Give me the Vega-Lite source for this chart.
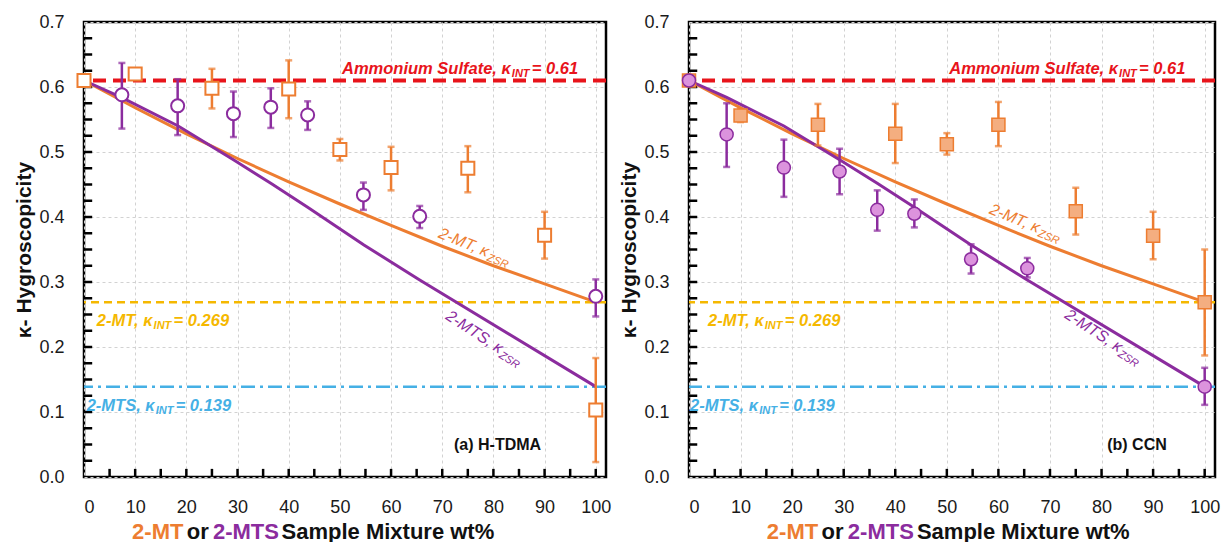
{
  "$schema": "https://vega.github.io/schema/vega-lite/v6.json",
  "padding": {"left": 12, "top": 11, "right": 2, "bottom": 0},
  "spacing": 4,
  "config": {
    "font": "Liberation Sans",
    "view": {"stroke": "#000000", "strokeWidth": 2.5},
    "axis": {
      "labelFont": "Liberation Sans", "labelFontSize": 18, "labelColor": "#1a1a1a",
      "titleFont": "Liberation Sans", "titleFontSize": 21, "titleFontWeight": "bold", "titleColor": "#111111",
      "ticks": false, "domain": false,
      "gridColor": "#d2d2d2", "gridDash": [3, 3], "gridWidth": 1
    },
    "axisX": {"labelPadding": 21},
    "axisY": {"labelPadding": 20, "titlePadding": 4}
  },
  "datasets": {
    "xt": [{"v": 5}, {"v": 10}, {"v": 15}, {"v": 20}, {"v": 25}, {"v": 30}, {"v": 35}, {"v": 40}, {"v": 45}, {"v": 50}, {"v": 55}, {"v": 60}, {"v": 65}, {"v": 70}, {"v": 75}, {"v": 80}, {"v": 85}, {"v": 90}, {"v": 95}, {"v": 100}],
    "yt": [{"v": 0.025}, {"v": 0.05}, {"v": 0.075}, {"v": 0.1}, {"v": 0.125}, {"v": 0.15}, {"v": 0.175}, {"v": 0.2}, {"v": 0.225}, {"v": 0.25}, {"v": 0.275}, {"v": 0.3}, {"v": 0.325}, {"v": 0.35}, {"v": 0.375}, {"v": 0.4}, {"v": 0.425}, {"v": 0.45}, {"v": 0.475}, {"v": 0.5}, {"v": 0.525}, {"v": 0.55}, {"v": 0.575}, {"v": 0.6}, {"v": 0.625}, {"v": 0.65}, {"v": 0.675}],
    "pts": [
      {"panel": "a", "c": "2-MT", "x": 0, "k": 0.61, "lo": null, "hi": null},
      {"panel": "a", "c": "2-MT", "x": 10, "k": 0.62, "lo": 0.613, "hi": 0.627},
      {"panel": "a", "c": "2-MT", "x": 25, "k": 0.598, "lo": 0.567, "hi": 0.628},
      {"panel": "a", "c": "2-MT", "x": 40, "k": 0.597, "lo": 0.552, "hi": 0.641},
      {"panel": "a", "c": "2-MT", "x": 50, "k": 0.504, "lo": 0.487, "hi": 0.52},
      {"panel": "a", "c": "2-MT", "x": 60, "k": 0.476, "lo": 0.441, "hi": 0.508},
      {"panel": "a", "c": "2-MT", "x": 75, "k": 0.475, "lo": 0.438, "hi": 0.509},
      {"panel": "a", "c": "2-MT", "x": 90, "k": 0.372, "lo": 0.336, "hi": 0.408},
      {"panel": "a", "c": "2-MT", "x": 100, "k": 0.103, "lo": 0.023, "hi": 0.183},
      {"panel": "a", "c": "2-MTS", "x": 7.4, "k": 0.588, "lo": 0.536, "hi": 0.637},
      {"panel": "a", "c": "2-MTS", "x": 18.3, "k": 0.571, "lo": 0.526, "hi": 0.612},
      {"panel": "a", "c": "2-MTS", "x": 29.2, "k": 0.559, "lo": 0.523, "hi": 0.593},
      {"panel": "a", "c": "2-MTS", "x": 36.5, "k": 0.569, "lo": 0.537, "hi": 0.598},
      {"panel": "a", "c": "2-MTS", "x": 43.7, "k": 0.557, "lo": 0.534, "hi": 0.578},
      {"panel": "a", "c": "2-MTS", "x": 54.6, "k": 0.434, "lo": 0.411, "hi": 0.453},
      {"panel": "a", "c": "2-MTS", "x": 65.6, "k": 0.401, "lo": 0.383, "hi": 0.417},
      {"panel": "a", "c": "2-MTS", "x": 100, "k": 0.278, "lo": 0.247, "hi": 0.304},
      {"panel": "b", "c": "2-MT", "x": 0, "k": 0.61, "lo": null, "hi": null},
      {"panel": "b", "c": "2-MT", "x": 10, "k": 0.556, "lo": 0.546, "hi": 0.566},
      {"panel": "b", "c": "2-MT", "x": 25, "k": 0.542, "lo": 0.51, "hi": 0.574},
      {"panel": "b", "c": "2-MT", "x": 40, "k": 0.528, "lo": 0.483, "hi": 0.574},
      {"panel": "b", "c": "2-MT", "x": 50, "k": 0.512, "lo": 0.496, "hi": 0.529},
      {"panel": "b", "c": "2-MT", "x": 60, "k": 0.542, "lo": 0.509, "hi": 0.577},
      {"panel": "b", "c": "2-MT", "x": 75, "k": 0.409, "lo": 0.373, "hi": 0.445},
      {"panel": "b", "c": "2-MT", "x": 90, "k": 0.371, "lo": 0.335, "hi": 0.408},
      {"panel": "b", "c": "2-MT", "x": 100, "k": 0.269, "lo": 0.187, "hi": 0.35},
      {"panel": "b", "c": "2-MTS", "x": 0, "k": 0.61, "lo": null, "hi": null},
      {"panel": "b", "c": "2-MTS", "x": 7.3, "k": 0.527, "lo": 0.477, "hi": 0.575},
      {"panel": "b", "c": "2-MTS", "x": 18.4, "k": 0.476, "lo": 0.431, "hi": 0.519},
      {"panel": "b", "c": "2-MTS", "x": 29.2, "k": 0.47, "lo": 0.435, "hi": 0.505},
      {"panel": "b", "c": "2-MTS", "x": 36.5, "k": 0.411, "lo": 0.379, "hi": 0.441},
      {"panel": "b", "c": "2-MTS", "x": 43.7, "k": 0.405, "lo": 0.384, "hi": 0.427},
      {"panel": "b", "c": "2-MTS", "x": 54.7, "k": 0.335, "lo": 0.313, "hi": 0.358},
      {"panel": "b", "c": "2-MTS", "x": 65.6, "k": 0.321, "lo": 0.307, "hi": 0.337},
      {"panel": "b", "c": "2-MTS", "x": 100, "k": 0.139, "lo": 0.111, "hi": 0.168}
    ],
    "zsr": [
      {"c": "2-MT", "x": 0, "k": 0.61},
      {"c": "2-MT", "x": 10, "k": 0.568},
      {"c": "2-MT", "x": 20, "k": 0.528},
      {"c": "2-MT", "x": 30, "k": 0.49},
      {"c": "2-MT", "x": 40, "k": 0.454},
      {"c": "2-MT", "x": 50, "k": 0.42},
      {"c": "2-MT", "x": 60, "k": 0.387},
      {"c": "2-MT", "x": 70, "k": 0.355},
      {"c": "2-MT", "x": 80, "k": 0.325},
      {"c": "2-MT", "x": 90, "k": 0.297},
      {"c": "2-MT", "x": 100, "k": 0.269},
      {"c": "2-MTS", "x": 0, "k": 0.61},
      {"c": "2-MTS", "x": 7.3, "k": 0.584},
      {"c": "2-MTS", "x": 18.4, "k": 0.54},
      {"c": "2-MTS", "x": 29.2, "k": 0.488},
      {"c": "2-MTS", "x": 36.5, "k": 0.452},
      {"c": "2-MTS", "x": 43.7, "k": 0.415},
      {"c": "2-MTS", "x": 54.7, "k": 0.357},
      {"c": "2-MTS", "x": 65.6, "k": 0.303},
      {"c": "2-MTS", "x": 100, "k": 0.139}
    ],
    "refs": [
      {"c": "AS", "k": 0.61},
      {"c": "MT-INT", "k": 0.269},
      {"c": "MTS-INT", "k": 0.139}
    ],
    "ilabels": [
      {"panel": "a", "c": "AS", "x": 83.6, "k": 0.628, "pre": "Ammonium Sulfate, κ", "sub": "INT", "post": "= 0.61"},
      {"panel": "a", "c": "MT-INT", "x": 13.6, "k": 0.2395, "pre": "2-MT, κ", "sub": "INT", "post": "= 0.269"},
      {"panel": "a", "c": "MTS-INT", "x": 14.0, "k": 0.11, "pre": "2-MTS, κ", "sub": "INT", "post": "= 0.139"},
      {"panel": "b", "c": "AS", "x": 83.4, "k": 0.628, "pre": "Ammonium Sulfate, κ", "sub": "INT", "post": "= 0.61"},
      {"panel": "b", "c": "MT-INT", "x": 14.7, "k": 0.2395, "pre": "2-MT, κ", "sub": "INT", "post": "= 0.269"},
      {"panel": "b", "c": "MTS-INT", "x": 13.6, "k": 0.11, "pre": "2-MTS, κ", "sub": "INT", "post": "= 0.139"}
    ],
    "zlabels": [
      {"panel": "a", "c": "2-MT", "x": 79.2, "k": 0.345, "pre": "2-MT, κ", "sub": "ZSR"},
      {"panel": "a", "c": "2-MTS", "x": 81.8, "k": 0.195, "pre": "2-MTS, κ", "sub": "ZSR"},
      {"panel": "b", "c": "2-MT", "x": 68.1, "k": 0.382, "pre": "2-MT, κ", "sub": "ZSR"},
      {"panel": "b", "c": "2-MTS", "x": 83.9, "k": 0.197, "pre": "2-MTS, κ", "sub": "ZSR"}
    ],
    "plabels": [
      {"panel": "a", "x": 72.3, "t": "(a) H-TDMA"},
      {"panel": "b", "x": 81.1, "t": "(b) CCN"}
    ],
    "xtitle": [
      {"panel": "a", "c": "2-MT", "x": 9.4, "t": "2-MT"},
      {"panel": "a", "c": "text", "x": 20.1, "t": "or"},
      {"panel": "a", "c": "2-MTS", "x": 25.2, "t": "2-MTS"},
      {"panel": "a", "c": "text", "x": 38.6, "t": "Sample Mixture wt%"},
      {"panel": "b", "c": "2-MT", "x": 15.1, "t": "2-MT"},
      {"panel": "b", "c": "text", "x": 25.7, "t": "or"},
      {"panel": "b", "c": "2-MTS", "x": 30.8, "t": "2-MTS"},
      {"panel": "b", "c": "text", "x": 44.2, "t": "Sample Mixture wt%"}
    ]
  },
  "hconcat": [
    {
      "width": 522, "height": 455,
      "layer": [
        {"data": {"name": "refs"}, "transform": [{"filter": "datum.c === 'AS'"}], "mark": {"type": "rule", "color": "#E8141B", "strokeWidth": 4, "strokeDash": [13, 7]},
         "encoding": {"y": {"field": "k", "type": "quantitative", "scale": {"domain": [0, 0.7], "nice": false, "zero": false},
           "axis": {"title": "κ- Hygroscopicity", "values": [0, 0.1, 0.2, 0.3, 0.4, 0.5, 0.6, 0.7], "format": ".1f"}}}},
        {"data": {"name": "refs"}, "transform": [{"filter": "datum.c === 'MT-INT'"}], "mark": {"type": "rule", "color": "#F5B800", "strokeWidth": 2.5, "strokeDash": [8, 5]},
         "encoding": {"y": {"field": "k", "type": "quantitative", "scale": {"domain": [0, 0.7], "nice": false, "zero": false}}}},
        {"data": {"name": "refs"}, "transform": [{"filter": "datum.c === 'MTS-INT'"}], "mark": {"type": "rule", "color": "#45B0E5", "strokeWidth": 2.5, "strokeDash": [14, 5, 3, 5]},
         "encoding": {"y": {"field": "k", "type": "quantitative", "scale": {"domain": [0, 0.7], "nice": false, "zero": false}}}},
        {"data": {"name": "xt"}, "mark": {"type": "rule", "color": "#000000", "strokeWidth": 2.5},
         "encoding": {
           "x": {"field": "v", "type": "quantitative", "scale": {"domain": [0, 102], "nice": false, "zero": false},
             "axis": {"title": null, "values": [0, 10, 20, 30, 40, 50, 60, 70, 80, 90, 100]}},
           "y": {"datum": 0, "type": "quantitative", "scale": {"domain": [0, 0.7], "nice": false, "zero": false}},
           "y2": {"datum": 0.0125}}},
        {"data": {"name": "yt"}, "mark": {"type": "rule", "color": "#000000", "strokeWidth": 2.5},
         "encoding": {
           "y": {"field": "v", "type": "quantitative", "scale": {"domain": [0, 0.7], "nice": false, "zero": false}},
           "x": {"datum": 0, "type": "quantitative", "scale": {"domain": [0, 102], "nice": false, "zero": false}},
           "x2": {"datum": 1.6}}},
        {"data": {"name": "zsr"}, "mark": {"type": "line", "strokeWidth": 3},
         "encoding": {
           "x": {"field": "x", "type": "quantitative", "scale": {"domain": [0, 102], "nice": false, "zero": false}},
           "y": {"field": "k", "type": "quantitative", "scale": {"domain": [0, 0.7], "nice": false, "zero": false}},
           "color": {"field": "c", "type": "nominal", "scale": {"domain": ["2-MT", "2-MTS", "AS", "MT-INT", "MTS-INT", "text"], "range": ["#ED7D31", "#8B2C9E", "#E8141B", "#F5B800", "#45B0E5", "#111111"]}, "legend": null}}},
        {"data": {"name": "pts"}, "transform": [{"filter": "datum.panel === 'a'"}], "mark": {"type": "rule", "strokeWidth": 2.5},
         "encoding": {
           "x": {"field": "x", "type": "quantitative", "scale": {"domain": [0, 102], "nice": false, "zero": false}},
           "y": {"field": "lo", "type": "quantitative", "scale": {"domain": [0, 0.7], "nice": false, "zero": false}},
           "y2": {"field": "hi"},
           "color": {"field": "c", "type": "nominal", "scale": {"domain": ["2-MT", "2-MTS", "AS", "MT-INT", "MTS-INT", "text"], "range": ["#ED7D31", "#8B2C9E", "#E8141B", "#F5B800", "#45B0E5", "#111111"]}, "legend": null}}},
        {"data": {"name": "pts"}, "transform": [{"filter": "datum.panel === 'a'"}, {"fold": ["lo", "hi"], "as": ["end", "v"]}], "mark": {"type": "tick", "orient": "horizontal", "size": 7, "thickness": 2.5},
         "encoding": {
           "x": {"field": "x", "type": "quantitative", "scale": {"domain": [0, 102], "nice": false, "zero": false}},
           "y": {"field": "v", "type": "quantitative", "scale": {"domain": [0, 0.7], "nice": false, "zero": false}},
           "color": {"field": "c", "type": "nominal", "scale": {"domain": ["2-MT", "2-MTS", "AS", "MT-INT", "MTS-INT", "text"], "range": ["#ED7D31", "#8B2C9E", "#E8141B", "#F5B800", "#45B0E5", "#111111"]}, "legend": null}}},
        {"data": {"name": "pts"}, "transform": [{"filter": "datum.panel === 'a'"}], "mark": {"type": "point", "filled": true, "fill": "white", "strokeWidth": 2, "size": 170, "opacity": 1},
         "encoding": {
           "x": {"field": "x", "type": "quantitative", "scale": {"domain": [0, 102], "nice": false, "zero": false}},
           "y": {"field": "k", "type": "quantitative", "scale": {"domain": [0, 0.7], "nice": false, "zero": false}},
           "shape": {"field": "c", "type": "nominal", "scale": {"domain": ["2-MT", "2-MTS"], "range": ["square", "circle"]}, "legend": null},
           "stroke": {"field": "c", "type": "nominal", "scale": {"domain": ["2-MT", "2-MTS"], "range": ["#ED7D31", "#8B2C9E"]}, "legend": null}}},
        {"data": {"name": "ilabels"}, "transform": [{"filter": "datum.panel === 'a'"}], "mark": {"type": "text", "align": "right", "baseline": "middle", "fontSize": 16.5, "fontStyle": "italic", "fontWeight": "bold", "dx": -1},
         "encoding": {
           "x": {"field": "x", "type": "quantitative", "scale": {"domain": [0, 102], "nice": false, "zero": false}},
           "y": {"field": "k", "type": "quantitative", "scale": {"domain": [0, 0.7], "nice": false, "zero": false}},
           "text": {"field": "pre"},
           "color": {"field": "c", "type": "nominal", "scale": {"domain": ["2-MT", "2-MTS", "AS", "MT-INT", "MTS-INT", "text"], "range": ["#ED7D31", "#8B2C9E", "#E8141B", "#F5B800", "#45B0E5", "#111111"]}, "legend": null}}},
        {"data": {"name": "ilabels"}, "transform": [{"filter": "datum.panel === 'a'"}], "mark": {"type": "text", "align": "left", "baseline": "middle", "fontSize": 11, "fontStyle": "italic", "fontWeight": "bold", "dx": 0, "dy": 5},
         "encoding": {
           "x": {"field": "x", "type": "quantitative", "scale": {"domain": [0, 102], "nice": false, "zero": false}},
           "y": {"field": "k", "type": "quantitative", "scale": {"domain": [0, 0.7], "nice": false, "zero": false}},
           "text": {"field": "sub"},
           "color": {"field": "c", "type": "nominal", "scale": {"domain": ["2-MT", "2-MTS", "AS", "MT-INT", "MTS-INT", "text"], "range": ["#ED7D31", "#8B2C9E", "#E8141B", "#F5B800", "#45B0E5", "#111111"]}, "legend": null}}},
        {"data": {"name": "ilabels"}, "transform": [{"filter": "datum.panel === 'a'"}], "mark": {"type": "text", "align": "left", "baseline": "middle", "fontSize": 16.5, "fontStyle": "italic", "fontWeight": "bold", "dx": 20},
         "encoding": {
           "x": {"field": "x", "type": "quantitative", "scale": {"domain": [0, 102], "nice": false, "zero": false}},
           "y": {"field": "k", "type": "quantitative", "scale": {"domain": [0, 0.7], "nice": false, "zero": false}},
           "text": {"field": "post"},
           "color": {"field": "c", "type": "nominal", "scale": {"domain": ["2-MT", "2-MTS", "AS", "MT-INT", "MTS-INT", "text"], "range": ["#ED7D31", "#8B2C9E", "#E8141B", "#F5B800", "#45B0E5", "#111111"]}, "legend": null}}},
        {"data": {"name": "zlabels"}, "transform": [{"filter": "datum.panel === 'a' && datum.c === '2-MT'"}], "mark": {"type": "text", "align": "right", "baseline": "middle", "fontSize": 16, "fontStyle": "italic", "angle": 22, "dx": -1},
         "encoding": {
           "x": {"field": "x", "type": "quantitative", "scale": {"domain": [0, 102], "nice": false, "zero": false}},
           "y": {"field": "k", "type": "quantitative", "scale": {"domain": [0, 0.7], "nice": false, "zero": false}},
           "text": {"field": "pre"},
           "color": {"field": "c", "type": "nominal", "scale": {"domain": ["2-MT", "2-MTS", "AS", "MT-INT", "MTS-INT", "text"], "range": ["#ED7D31", "#8B2C9E", "#E8141B", "#F5B800", "#45B0E5", "#111111"]}, "legend": null}}},
        {"data": {"name": "zlabels"}, "transform": [{"filter": "datum.panel === 'a' && datum.c === '2-MT'"}], "mark": {"type": "text", "align": "left", "baseline": "middle", "fontSize": 11, "fontStyle": "italic", "angle": 22, "dy": 5},
         "encoding": {
           "x": {"field": "x", "type": "quantitative", "scale": {"domain": [0, 102], "nice": false, "zero": false}},
           "y": {"field": "k", "type": "quantitative", "scale": {"domain": [0, 0.7], "nice": false, "zero": false}},
           "text": {"field": "sub"},
           "color": {"field": "c", "type": "nominal", "scale": {"domain": ["2-MT", "2-MTS", "AS", "MT-INT", "MTS-INT", "text"], "range": ["#ED7D31", "#8B2C9E", "#E8141B", "#F5B800", "#45B0E5", "#111111"]}, "legend": null}}},
        {"data": {"name": "zlabels"}, "transform": [{"filter": "datum.panel === 'a' && datum.c === '2-MTS'"}], "mark": {"type": "text", "align": "right", "baseline": "middle", "fontSize": 16, "fontStyle": "italic", "angle": 33, "dx": -1},
         "encoding": {
           "x": {"field": "x", "type": "quantitative", "scale": {"domain": [0, 102], "nice": false, "zero": false}},
           "y": {"field": "k", "type": "quantitative", "scale": {"domain": [0, 0.7], "nice": false, "zero": false}},
           "text": {"field": "pre"},
           "color": {"field": "c", "type": "nominal", "scale": {"domain": ["2-MT", "2-MTS", "AS", "MT-INT", "MTS-INT", "text"], "range": ["#ED7D31", "#8B2C9E", "#E8141B", "#F5B800", "#45B0E5", "#111111"]}, "legend": null}}},
        {"data": {"name": "zlabels"}, "transform": [{"filter": "datum.panel === 'a' && datum.c === '2-MTS'"}], "mark": {"type": "text", "align": "left", "baseline": "middle", "fontSize": 11, "fontStyle": "italic", "angle": 33, "dy": 5},
         "encoding": {
           "x": {"field": "x", "type": "quantitative", "scale": {"domain": [0, 102], "nice": false, "zero": false}},
           "y": {"field": "k", "type": "quantitative", "scale": {"domain": [0, 0.7], "nice": false, "zero": false}},
           "text": {"field": "sub"},
           "color": {"field": "c", "type": "nominal", "scale": {"domain": ["2-MT", "2-MTS", "AS", "MT-INT", "MTS-INT", "text"], "range": ["#ED7D31", "#8B2C9E", "#E8141B", "#F5B800", "#45B0E5", "#111111"]}, "legend": null}}},
        {"data": {"name": "plabels"}, "transform": [{"filter": "datum.panel === 'a'"}], "mark": {"type": "text", "align": "left", "baseline": "middle", "fontSize": 16, "fontWeight": "bold", "color": "#111111"},
         "encoding": {
           "x": {"field": "x", "type": "quantitative", "scale": {"domain": [0, 102], "nice": false, "zero": false}},
           "y": {"datum": 0.05, "type": "quantitative", "scale": {"domain": [0, 0.7], "nice": false, "zero": false}},
           "text": {"field": "t"}}},
        {"data": {"name": "xtitle"}, "transform": [{"filter": "datum.panel === 'a'"}], "mark": {"type": "text", "align": "left", "baseline": "middle", "fontSize": 22, "fontWeight": "bold"},
         "encoding": {
           "x": {"field": "x", "type": "quantitative", "scale": {"domain": [0, 102], "nice": false, "zero": false}},
           "y": {"datum": -0.084, "type": "quantitative", "scale": {"domain": [0, 0.7], "nice": false, "zero": false}},
           "text": {"field": "t"},
           "color": {"field": "c", "type": "nominal", "scale": {"domain": ["2-MT", "2-MTS", "AS", "MT-INT", "MTS-INT", "text"], "range": ["#ED7D31", "#8B2C9E", "#E8141B", "#F5B800", "#45B0E5", "#111111"]}, "legend": null}}}
      ]
    },
    {
      "width": 526, "height": 455,
      "layer": [
        {"data": {"name": "refs"}, "transform": [{"filter": "datum.c === 'AS'"}], "mark": {"type": "rule", "color": "#E8141B", "strokeWidth": 4, "strokeDash": [13, 7]},
         "encoding": {"y": {"field": "k", "type": "quantitative", "scale": {"domain": [0, 0.7], "nice": false, "zero": false},
           "axis": {"title": "κ- Hygroscopicity", "values": [0, 0.1, 0.2, 0.3, 0.4, 0.5, 0.6, 0.7], "format": ".1f"}}}},
        {"data": {"name": "refs"}, "transform": [{"filter": "datum.c === 'MT-INT'"}], "mark": {"type": "rule", "color": "#F5B800", "strokeWidth": 2.5, "strokeDash": [8, 5]},
         "encoding": {"y": {"field": "k", "type": "quantitative", "scale": {"domain": [0, 0.7], "nice": false, "zero": false}}}},
        {"data": {"name": "refs"}, "transform": [{"filter": "datum.c === 'MTS-INT'"}], "mark": {"type": "rule", "color": "#45B0E5", "strokeWidth": 2.5, "strokeDash": [14, 5, 3, 5]},
         "encoding": {"y": {"field": "k", "type": "quantitative", "scale": {"domain": [0, 0.7], "nice": false, "zero": false}}}},
        {"data": {"name": "xt"}, "mark": {"type": "rule", "color": "#000000", "strokeWidth": 2.5},
         "encoding": {
           "x": {"field": "v", "type": "quantitative", "scale": {"domain": [0, 102], "nice": false, "zero": false},
             "axis": {"title": null, "values": [0, 10, 20, 30, 40, 50, 60, 70, 80, 90, 100]}},
           "y": {"datum": 0, "type": "quantitative", "scale": {"domain": [0, 0.7], "nice": false, "zero": false}},
           "y2": {"datum": 0.0125}}},
        {"data": {"name": "yt"}, "mark": {"type": "rule", "color": "#000000", "strokeWidth": 2.5},
         "encoding": {
           "y": {"field": "v", "type": "quantitative", "scale": {"domain": [0, 0.7], "nice": false, "zero": false}},
           "x": {"datum": 0, "type": "quantitative", "scale": {"domain": [0, 102], "nice": false, "zero": false}},
           "x2": {"datum": 1.6}}},
        {"data": {"name": "zsr"}, "mark": {"type": "line", "strokeWidth": 3},
         "encoding": {
           "x": {"field": "x", "type": "quantitative", "scale": {"domain": [0, 102], "nice": false, "zero": false}},
           "y": {"field": "k", "type": "quantitative", "scale": {"domain": [0, 0.7], "nice": false, "zero": false}},
           "color": {"field": "c", "type": "nominal", "scale": {"domain": ["2-MT", "2-MTS", "AS", "MT-INT", "MTS-INT", "text"], "range": ["#ED7D31", "#8B2C9E", "#E8141B", "#F5B800", "#45B0E5", "#111111"]}, "legend": null}}},
        {"data": {"name": "pts"}, "transform": [{"filter": "datum.panel === 'b'"}], "mark": {"type": "rule", "strokeWidth": 2.5},
         "encoding": {
           "x": {"field": "x", "type": "quantitative", "scale": {"domain": [0, 102], "nice": false, "zero": false}},
           "y": {"field": "lo", "type": "quantitative", "scale": {"domain": [0, 0.7], "nice": false, "zero": false}},
           "y2": {"field": "hi"},
           "color": {"field": "c", "type": "nominal", "scale": {"domain": ["2-MT", "2-MTS", "AS", "MT-INT", "MTS-INT", "text"], "range": ["#ED7D31", "#8B2C9E", "#E8141B", "#F5B800", "#45B0E5", "#111111"]}, "legend": null}}},
        {"data": {"name": "pts"}, "transform": [{"filter": "datum.panel === 'b'"}, {"fold": ["lo", "hi"], "as": ["end", "v"]}], "mark": {"type": "tick", "orient": "horizontal", "size": 7, "thickness": 2.5},
         "encoding": {
           "x": {"field": "x", "type": "quantitative", "scale": {"domain": [0, 102], "nice": false, "zero": false}},
           "y": {"field": "v", "type": "quantitative", "scale": {"domain": [0, 0.7], "nice": false, "zero": false}},
           "color": {"field": "c", "type": "nominal", "scale": {"domain": ["2-MT", "2-MTS", "AS", "MT-INT", "MTS-INT", "text"], "range": ["#ED7D31", "#8B2C9E", "#E8141B", "#F5B800", "#45B0E5", "#111111"]}, "legend": null}}},
        {"data": {"name": "pts"}, "transform": [{"filter": "datum.panel === 'b'"}], "mark": {"type": "point", "filled": true, "strokeWidth": 1.5, "size": 170, "opacity": 1},
         "encoding": {
           "x": {"field": "x", "type": "quantitative", "scale": {"domain": [0, 102], "nice": false, "zero": false}},
           "y": {"field": "k", "type": "quantitative", "scale": {"domain": [0, 0.7], "nice": false, "zero": false}},
           "shape": {"field": "c", "type": "nominal", "scale": {"domain": ["2-MT", "2-MTS"], "range": ["square", "circle"]}, "legend": null},
           "fill": {"field": "c", "type": "nominal", "scale": {"domain": ["2-MT", "2-MTS"], "range": ["#F4AE80", "#DC93DD"]}, "legend": null},
           "stroke": {"field": "c", "type": "nominal", "scale": {"domain": ["2-MT", "2-MTS"], "range": ["#ED7D31", "#9B32A8"]}, "legend": null}}},
        {"data": {"name": "ilabels"}, "transform": [{"filter": "datum.panel === 'b'"}], "mark": {"type": "text", "align": "right", "baseline": "middle", "fontSize": 16.5, "fontStyle": "italic", "fontWeight": "bold", "dx": -1},
         "encoding": {
           "x": {"field": "x", "type": "quantitative", "scale": {"domain": [0, 102], "nice": false, "zero": false}},
           "y": {"field": "k", "type": "quantitative", "scale": {"domain": [0, 0.7], "nice": false, "zero": false}},
           "text": {"field": "pre"},
           "color": {"field": "c", "type": "nominal", "scale": {"domain": ["2-MT", "2-MTS", "AS", "MT-INT", "MTS-INT", "text"], "range": ["#ED7D31", "#8B2C9E", "#E8141B", "#F5B800", "#45B0E5", "#111111"]}, "legend": null}}},
        {"data": {"name": "ilabels"}, "transform": [{"filter": "datum.panel === 'b'"}], "mark": {"type": "text", "align": "left", "baseline": "middle", "fontSize": 11, "fontStyle": "italic", "fontWeight": "bold", "dx": 0, "dy": 5},
         "encoding": {
           "x": {"field": "x", "type": "quantitative", "scale": {"domain": [0, 102], "nice": false, "zero": false}},
           "y": {"field": "k", "type": "quantitative", "scale": {"domain": [0, 0.7], "nice": false, "zero": false}},
           "text": {"field": "sub"},
           "color": {"field": "c", "type": "nominal", "scale": {"domain": ["2-MT", "2-MTS", "AS", "MT-INT", "MTS-INT", "text"], "range": ["#ED7D31", "#8B2C9E", "#E8141B", "#F5B800", "#45B0E5", "#111111"]}, "legend": null}}},
        {"data": {"name": "ilabels"}, "transform": [{"filter": "datum.panel === 'b'"}], "mark": {"type": "text", "align": "left", "baseline": "middle", "fontSize": 16.5, "fontStyle": "italic", "fontWeight": "bold", "dx": 20},
         "encoding": {
           "x": {"field": "x", "type": "quantitative", "scale": {"domain": [0, 102], "nice": false, "zero": false}},
           "y": {"field": "k", "type": "quantitative", "scale": {"domain": [0, 0.7], "nice": false, "zero": false}},
           "text": {"field": "post"},
           "color": {"field": "c", "type": "nominal", "scale": {"domain": ["2-MT", "2-MTS", "AS", "MT-INT", "MTS-INT", "text"], "range": ["#ED7D31", "#8B2C9E", "#E8141B", "#F5B800", "#45B0E5", "#111111"]}, "legend": null}}},
        {"data": {"name": "zlabels"}, "transform": [{"filter": "datum.panel === 'b' && datum.c === '2-MT'"}], "mark": {"type": "text", "align": "right", "baseline": "middle", "fontSize": 16, "fontStyle": "italic", "angle": 22, "dx": -1},
         "encoding": {
           "x": {"field": "x", "type": "quantitative", "scale": {"domain": [0, 102], "nice": false, "zero": false}},
           "y": {"field": "k", "type": "quantitative", "scale": {"domain": [0, 0.7], "nice": false, "zero": false}},
           "text": {"field": "pre"},
           "color": {"field": "c", "type": "nominal", "scale": {"domain": ["2-MT", "2-MTS", "AS", "MT-INT", "MTS-INT", "text"], "range": ["#ED7D31", "#8B2C9E", "#E8141B", "#F5B800", "#45B0E5", "#111111"]}, "legend": null}}},
        {"data": {"name": "zlabels"}, "transform": [{"filter": "datum.panel === 'b' && datum.c === '2-MT'"}], "mark": {"type": "text", "align": "left", "baseline": "middle", "fontSize": 11, "fontStyle": "italic", "angle": 22, "dy": 5},
         "encoding": {
           "x": {"field": "x", "type": "quantitative", "scale": {"domain": [0, 102], "nice": false, "zero": false}},
           "y": {"field": "k", "type": "quantitative", "scale": {"domain": [0, 0.7], "nice": false, "zero": false}},
           "text": {"field": "sub"},
           "color": {"field": "c", "type": "nominal", "scale": {"domain": ["2-MT", "2-MTS", "AS", "MT-INT", "MTS-INT", "text"], "range": ["#ED7D31", "#8B2C9E", "#E8141B", "#F5B800", "#45B0E5", "#111111"]}, "legend": null}}},
        {"data": {"name": "zlabels"}, "transform": [{"filter": "datum.panel === 'b' && datum.c === '2-MTS'"}], "mark": {"type": "text", "align": "right", "baseline": "middle", "fontSize": 16, "fontStyle": "italic", "angle": 33, "dx": -1},
         "encoding": {
           "x": {"field": "x", "type": "quantitative", "scale": {"domain": [0, 102], "nice": false, "zero": false}},
           "y": {"field": "k", "type": "quantitative", "scale": {"domain": [0, 0.7], "nice": false, "zero": false}},
           "text": {"field": "pre"},
           "color": {"field": "c", "type": "nominal", "scale": {"domain": ["2-MT", "2-MTS", "AS", "MT-INT", "MTS-INT", "text"], "range": ["#ED7D31", "#8B2C9E", "#E8141B", "#F5B800", "#45B0E5", "#111111"]}, "legend": null}}},
        {"data": {"name": "zlabels"}, "transform": [{"filter": "datum.panel === 'b' && datum.c === '2-MTS'"}], "mark": {"type": "text", "align": "left", "baseline": "middle", "fontSize": 11, "fontStyle": "italic", "angle": 33, "dy": 5},
         "encoding": {
           "x": {"field": "x", "type": "quantitative", "scale": {"domain": [0, 102], "nice": false, "zero": false}},
           "y": {"field": "k", "type": "quantitative", "scale": {"domain": [0, 0.7], "nice": false, "zero": false}},
           "text": {"field": "sub"},
           "color": {"field": "c", "type": "nominal", "scale": {"domain": ["2-MT", "2-MTS", "AS", "MT-INT", "MTS-INT", "text"], "range": ["#ED7D31", "#8B2C9E", "#E8141B", "#F5B800", "#45B0E5", "#111111"]}, "legend": null}}},
        {"data": {"name": "plabels"}, "transform": [{"filter": "datum.panel === 'b'"}], "mark": {"type": "text", "align": "left", "baseline": "middle", "fontSize": 16, "fontWeight": "bold", "color": "#111111"},
         "encoding": {
           "x": {"field": "x", "type": "quantitative", "scale": {"domain": [0, 102], "nice": false, "zero": false}},
           "y": {"datum": 0.05, "type": "quantitative", "scale": {"domain": [0, 0.7], "nice": false, "zero": false}},
           "text": {"field": "t"}}},
        {"data": {"name": "xtitle"}, "transform": [{"filter": "datum.panel === 'b'"}], "mark": {"type": "text", "align": "left", "baseline": "middle", "fontSize": 22, "fontWeight": "bold"},
         "encoding": {
           "x": {"field": "x", "type": "quantitative", "scale": {"domain": [0, 102], "nice": false, "zero": false}},
           "y": {"datum": -0.084, "type": "quantitative", "scale": {"domain": [0, 0.7], "nice": false, "zero": false}},
           "text": {"field": "t"},
           "color": {"field": "c", "type": "nominal", "scale": {"domain": ["2-MT", "2-MTS", "AS", "MT-INT", "MTS-INT", "text"], "range": ["#ED7D31", "#8B2C9E", "#E8141B", "#F5B800", "#45B0E5", "#111111"]}, "legend": null}}}
      ]
    }
  ]
}
